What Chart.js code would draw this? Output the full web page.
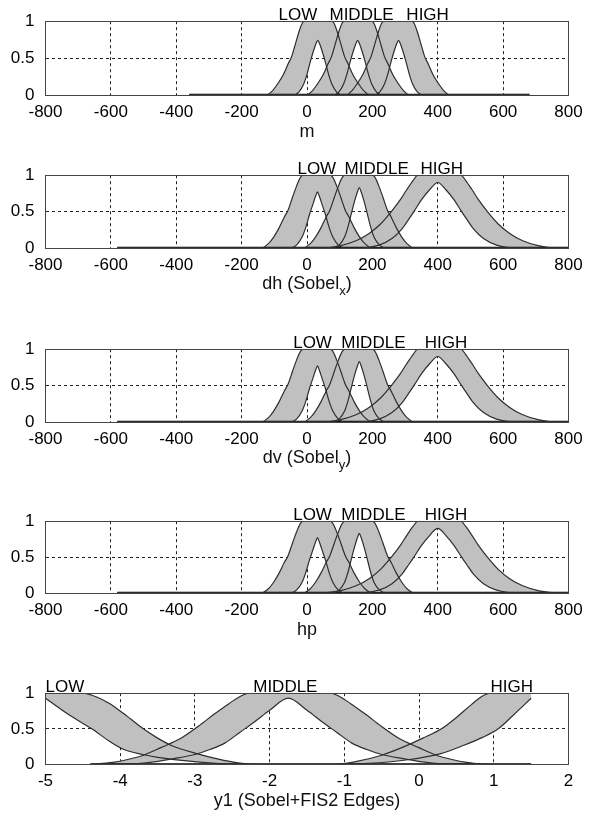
<!DOCTYPE html>
<html>
<head>
<meta charset="UTF-8" />
<title>Membership functions</title>
<script src="https://cdn.jsdelivr.net/npm/chart.js"></script>
<style>
  body { margin: 0; background: white; font-family: "Liberation Sans", Arial, sans-serif; }
  #page { position: relative; width: 593px; height: 824px; overflow: hidden; }
  canvas { position: absolute; left: 0; }
  .axis-title { position: absolute; left: 45px; width: 524px; text-align: center; font-size: 18px; line-height: 20px; color: #111; }
  .axis-title sub { font-size: 13px; vertical-align: -6px; line-height: 0; }
</style>
</head>
<body>
<div id="page">
  <canvas id="c0" width="593" height="150" style="top:0px"></canvas>
  <canvas id="c1" width="593" height="150" style="top:154px"></canvas>
  <canvas id="c2" width="593" height="150" style="top:328px"></canvas>
  <canvas id="c3" width="593" height="150" style="top:500px"></canvas>
  <canvas id="c4" width="593" height="150" style="top:672px"></canvas>
  <div class="axis-title" style="top:121px">m</div>
  <div class="axis-title" style="top:273px">dh (Sobel<sub>x</sub>)</div>
  <div class="axis-title" style="top:447px">dv (Sobel<sub>y</sub>)</div>
  <div class="axis-title" style="top:619px">hp</div>
  <div class="axis-title" style="top:790px">y1 (Sobel+FIS2 Edges)</div>
</div>
<script>
  // --- values: [x, membership] ---
  const mfNames = ['LOW', 'MIDDLE', 'HIGH'];
  const yTicks = [0, 0.5, 1];
  const xTicksWide = [-800, -600, -400, -200, 0, 200, 400, 600, 800];
  const xTicksY1 = [-5, -4, -3, -2, -1, 0, 1, 2];

  // m
  const mBaseline = [[-360,0],[680,0]];
  const mLowUpper = [[-360,0],[-125,0],[-105,0.06],[-90,0.15],[-73,0.27],[-58,0.42],[-47,0.52],[-35,0.7],[-25,0.85],[-15,0.97],[-8,1],[76,1],[83,0.97],[93,0.85],[103,0.7],[115,0.52],[126,0.42],[141,0.27],[158,0.15],[173,0.06],[193,0],[680,0]];
  const mLowLower = [[-360,0],[-45,0],[-25,0.04],[-10,0.15],[0,0.28],[10,0.45],[20,0.6],[28,0.7],[33,0.74],[38,0.7],[46,0.6],[56,0.45],[66,0.28],[76,0.15],[91,0.04],[111,0],[680,0]];
  const mMidUpper = [[-360,0],[-3,0],[17,0.06],[32,0.15],[49,0.27],[64,0.42],[75,0.52],[87,0.7],[97,0.85],[107,0.97],[114,1],[198,1],[205,0.97],[215,0.85],[225,0.7],[237,0.52],[248,0.42],[263,0.27],[280,0.15],[295,0.06],[315,0],[680,0]];
  const mMidLower = [[-360,0],[77,0],[97,0.04],[112,0.15],[122,0.28],[132,0.45],[142,0.6],[150,0.7],[155,0.74],[160,0.7],[168,0.6],[178,0.45],[188,0.28],[198,0.15],[213,0.04],[233,0],[680,0]];
  const mHighUpper = [[-360,0],[118,0],[138,0.06],[153,0.15],[170,0.27],[185,0.42],[196,0.52],[208,0.7],[218,0.85],[228,0.97],[235,1],[321,1],[328,0.97],[338,0.85],[348,0.7],[360,0.52],[371,0.42],[386,0.27],[403,0.15],[418,0.06],[438,0],[680,0]];
  const mHighLower = [[-360,0],[202,0],[222,0.04],[237,0.15],[247,0.28],[257,0.45],[267,0.6],[275,0.7],[280,0.74],[285,0.7],[293,0.6],[303,0.45],[313,0.28],[323,0.15],[338,0.04],[358,0],[680,0]];
  const mLabelX = [-28, 167, 369];

  // dh, dv and hp share the same functions
  const dhBaseline = [[-580,0],[800,0]];
  const dhLowUpper = [[-580,0],[-140,0],[-118,0.06],[-102,0.15],[-85,0.28],[-70,0.42],[-58,0.52],[-44,0.7],[-32,0.85],[-20,0.97],[-12,1],[71,1],[79,0.97],[91,0.85],[103,0.7],[117,0.52],[129,0.42],[144,0.28],[161,0.15],[177,0.06],[199,0],[800,0]];
  const dhLowLower = [[-580,0],[-55,0],[-32,0.04],[-15,0.15],[-4,0.28],[7,0.45],[18,0.6],[27,0.72],[32,0.77],[37,0.72],[46,0.6],[57,0.45],[68,0.28],[79,0.15],[96,0.04],[119,0],[800,0]];
  const dhMidUpper = [[-580,0],[-12,0],[10,0.06],[26,0.15],[43,0.28],[58,0.42],[70,0.52],[84,0.7],[96,0.85],[108,0.97],[116,1],[200,1],[208,0.97],[220,0.85],[232,0.7],[246,0.52],[258,0.42],[273,0.28],[290,0.15],[306,0.06],[328,0],[800,0]];
  const dhMidLower = [[-580,0],[75,0],[98,0.04],[115,0.15],[126,0.3],[136,0.48],[146,0.65],[155,0.78],[160,0.83],[165,0.78],[174,0.65],[184,0.48],[194,0.3],[205,0.15],[222,0.04],[245,0],[800,0]];
  const dhHighUpper = [[-580,0],[40,0],[100,0.03],[150,0.1],[190,0.2],[225,0.33],[258,0.5],[285,0.66],[305,0.8],[325,0.93],[339,1],[471,1],[485,0.93],[505,0.8],[525,0.66],[552,0.5],[585,0.33],[620,0.2],[660,0.1],[710,0.03],[770,0],[800,0]];
  const dhHighLower = [[-580,0],[150,0],[220,0.04],[260,0.13],[290,0.26],[312,0.4],[327,0.5],[350,0.66],[375,0.8],[400,0.9],[425,0.8],[450,0.66],[473,0.5],[488,0.4],[510,0.26],[540,0.13],[580,0.04],[650,0],[800,0]];
  const dhLabelX = [30, 213, 412];
  const dvLabelX = [17, 203, 425];
  const hpLabelX = [17, 203, 425];

  // y1
  const y1Baseline = [[-4.4,0],[1.5,0]];
  const y1LowUpper = [[-5,1],[-4.5,1],[-4.3,0.94],[-4.15,0.86],[-4.0,0.75],[-3.85,0.63],[-3.69,0.5],[-3.5,0.37],[-3.3,0.26],[-3.0,0.16],[-2.7,0.08],[-2.4,0.02],[-2.2,0],[1.5,0]];
  const y1LowLower = [[-5,0.93],[-4.8,0.78],[-4.6,0.64],[-4.38,0.5],[-4.15,0.33],[-3.95,0.21],[-3.7,0.14],[-3.5,0.1],[-3.0,0.04],[-2.4,0],[1.5,0]];
  const y1MidUpper = [[-4.4,0],[-4.1,0.03],[-3.9,0.07],[-3.69,0.13],[-3.45,0.24],[-3.2,0.36],[-2.95,0.54],[-2.75,0.7],[-2.55,0.85],[-2.4,0.95],[-2.28,1],[-1.18,1],[-1.06,0.95],[-0.91,0.85],[-0.71,0.7],[-0.51,0.54],[-0.26,0.36],[-0.01,0.24],[0.23,0.13],[0.44,0.07],[0.64,0.03],[0.94,0],[1.5,0]];
  const y1MidLower = [[-4.4,0],[-4.0,0],[-3.6,0.03],[-3.3,0.08],[-3.0,0.14],[-2.8,0.21],[-2.6,0.3],[-2.4,0.45],[-2.2,0.6],[-2.0,0.76],[-1.75,0.93],[-1.5,0.76],[-1.3,0.6],[-1.1,0.45],[-0.9,0.3],[-0.7,0.21],[-0.5,0.14],[-0.2,0.08],[0.1,0.03],[0.5,0],[1.5,0]];
  const y1HighUpper = [[-4.4,0],[-1.13,0],[-0.85,0.04],[-0.5,0.13],[-0.2,0.25],[0.05,0.37],[0.3,0.5],[0.5,0.66],[0.7,0.84],[0.85,0.96],[0.95,1],[1.5,1]];
  const y1HighLower = [[-4.4,0],[-1.1,0],[-0.6,0.02],[-0.2,0.06],[0.28,0.15],[0.6,0.27],[0.85,0.38],[1.06,0.5],[1.25,0.68],[1.4,0.83],[1.5,0.93]];
  const y1LabelX = [-4.74, -1.79, 1.24];

  // --- layout ---
  const plotHeights = [75, 74, 74, 73, 72.5];
  const canvasH = 150, padTop = 20;
  const font = '"Liberation Sans", Arial, sans-serif';

  const dhCurves = [[dhLowUpper, dhLowLower], [dhMidUpper, dhMidLower], [dhHighUpper, dhHighLower]];
  const panels = [
    { id: 'c0', min: -800, max: 800, ticks: xTicksWide, base: mBaseline, curves: [[mLowUpper, mLowLower], [mMidUpper, mMidLower], [mHighUpper, mHighLower]], labels: mLabelX },
    { id: 'c1', min: -800, max: 800, ticks: xTicksWide, base: dhBaseline, curves: dhCurves, labels: dhLabelX },
    { id: 'c2', min: -800, max: 800, ticks: xTicksWide, base: dhBaseline, curves: dhCurves, labels: dvLabelX },
    { id: 'c3', min: -800, max: 800, ticks: xTicksWide, base: dhBaseline, curves: dhCurves, labels: hpLabelX },
    { id: 'c4', min: -5, max: 2, ticks: xTicksY1, base: y1Baseline, curves: [[y1LowUpper, y1LowLower], [y1MidUpper, y1MidLower], [y1HighUpper, y1HighLower]], labels: y1LabelX }
  ];

  const framePlugin = {
    id: 'frame',
    afterDatasetsDraw(chart) {
      const { ctx, chartArea: a } = chart;
      ctx.save();
      ctx.strokeStyle = '#444';
      ctx.lineWidth = 1;
      const l = Math.floor(a.left) + 0.5, t = Math.floor(a.top) + 0.5;
      const r = Math.floor(a.right) + 0.5, b = Math.floor(a.bottom) + 0.5;
      ctx.strokeRect(l, t, r - l, b - t);
      ctx.restore();
    },
    afterDraw(chart, args, opts) {
      const { ctx, chartArea: a } = chart;
      const xs = chart.scales.x;
      ctx.save();
      ctx.font = '17px ' + font;
      ctx.fillStyle = '#000';
      ctx.textAlign = 'center';
      ctx.textBaseline = 'alphabetic';
      opts.names.forEach((n, i) => ctx.fillText(n, xs.getPixelForValue(opts.xs[i]), a.top - 1.5));
      ctx.restore();
    }
  };

  panels.forEach((p, k) => {
    const datasets = [];
    p.curves.forEach(([upper, lower]) => {
      datasets.push({
        data: upper.map(d => ({ x: d[0], y: d[1] })),
        fill: '+1', backgroundColor: '#c0c0c0',
        borderColor: '#2e2e2e', borderWidth: 1.2, pointRadius: 0,
        cubicInterpolationMode: 'monotone'
      });
      datasets.push({
        data: lower.map(d => ({ x: d[0], y: d[1] })),
        fill: false,
        borderColor: '#2e2e2e', borderWidth: 1.2, pointRadius: 0,
        cubicInterpolationMode: 'monotone'
      });
    });
    datasets.push({
      data: p.base.map(d => ({ x: d[0], y: d[1] })),
      fill: false, borderColor: '#000', borderWidth: 2.5, pointRadius: 0
    });

    new Chart(document.getElementById(p.id), {
      type: 'line',
      data: { datasets },
      plugins: [framePlugin],
      options: {
        responsive: false,
        animation: false,
        events: [],
        layout: { padding: { top: padTop, right: 24.5, left: 0, bottom: 0 } },
        plugins: {
          legend: { display: false },
          tooltip: { enabled: false },
          filler: { drawTime: 'beforeDatasetsDraw' },
          frame: { names: mfNames, xs: p.labels }
        },
        scales: {
          x: {
            type: 'linear', min: p.min, max: p.max,
            afterBuildTicks: s => { s.ticks = p.ticks.map(v => ({ value: v })); },
            afterFit: s => { s.height = canvasH - padTop - plotHeights[k]; },
            ticks: { autoSkip: false, maxRotation: 0, padding: 7, color: '#000', font: { size: 17, family: font }, callback: v => String(v) },
            grid: { color: '#222', lineWidth: 1, drawTicks: false },
            border: { display: false, dash: [3, 3] }
          },
          y: {
            min: 0, max: 1,
            afterBuildTicks: s => { s.ticks = yTicks.map(v => ({ value: v })); },
            afterFit: s => { s.width = 45.5; },
            ticks: { padding: 11, color: '#000', font: { size: 17, family: font }, callback: v => String(v) },
            grid: { color: '#222', lineWidth: 1, drawTicks: false },
            border: { display: false, dash: [3, 3] }
          }
        }
      }
    });
  });
</script>
</body>
</html>
